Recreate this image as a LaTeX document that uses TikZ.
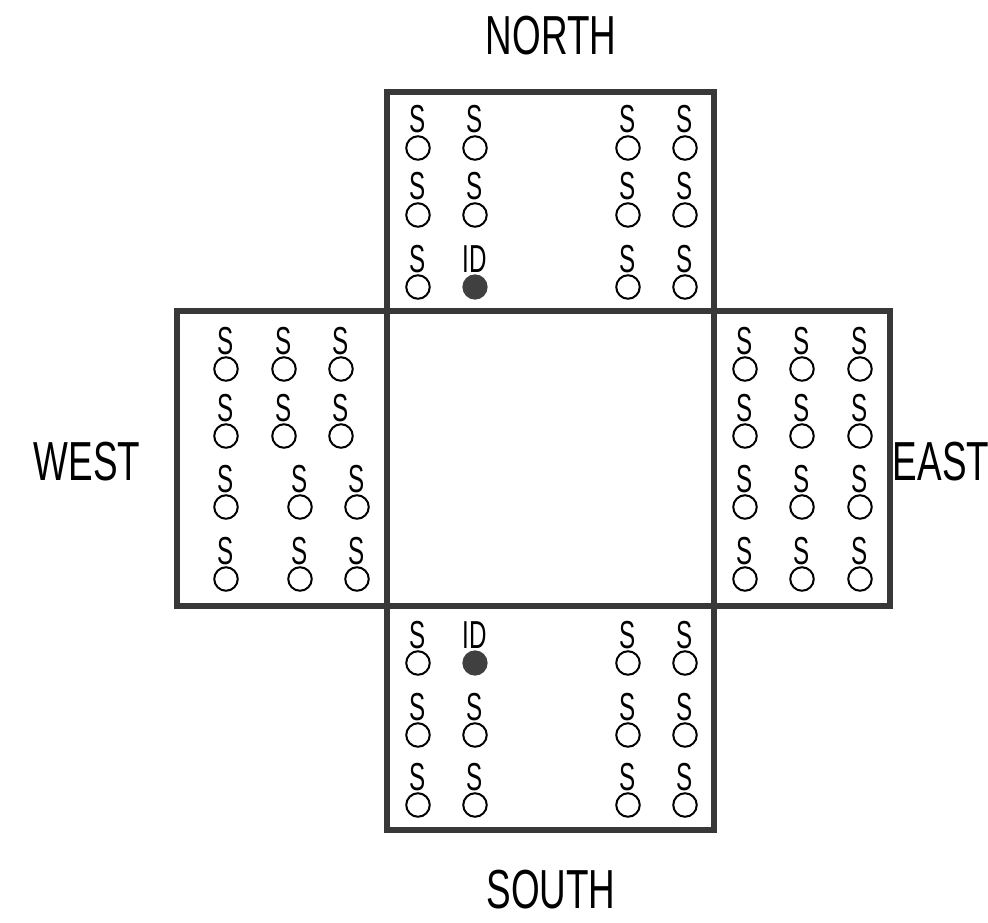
\documentclass[tikz,border=0pt]{standalone}
\usepackage{fontspec}
\newfontfamily\bigfont[FakeStretch=0.67]{Liberation Sans}
\newfontfamily\smallfont[FakeStretch=0.62]{Liberation Sans}
\begin{document}
\begin{tikzpicture}[x=1pt,y=-1pt,
  zonebox/.style={draw=black!78,line width=5.5pt},
  sensor/.style={circle,draw=black,line width=2pt,minimum size=23.5pt,inner sep=0pt},
  idsensor/.style={circle,fill=black!75,draw=black!75,line width=1.2pt,minimum size=24pt,inner sep=0pt},
  slabel/.style={anchor=base,inner sep=0pt,font=\smallfont\fontsize{39}{39}\selectfont},
  dirlabel/.style={anchor=base,inner sep=0pt,font=\bigfont\fontsize{55}{55}\selectfont}]
\useasboundingbox (0,0) rectangle (988,923);
% zones
\draw[zonebox] (387,92) rectangle (714,311);
\draw[zonebox] (387,311) rectangle (714,606);
\draw[zonebox] (177,311) rectangle (387,606);
\draw[zonebox] (714,311) rectangle (890,606);
\draw[zonebox] (387,606) rectangle (714,830);
% direction labels
\node[dirlabel] (north) at (551,55) {NORTH};
\node[dirlabel] (south) at (551,908) {SOUTH};
\node[dirlabel] (west) at (87,480) {WEST};
\node[dirlabel] (east) at (941,480) {EAST};
% north sensors
\foreach \y [count=\r] in {148,215,287}{
  \foreach \x [count=\c] in {418,475,628,685}{
    \ifnum\r=3 \ifnum\c=2
      \node[idsensor] (n-\r-\c) at (\x,\y) {};
      \node[slabel] (nl-\r-\c) at (\x,\y-15) {ID};
    \else
      \node[sensor] (n-\r-\c) at (\x,\y) {};
      \node[slabel] (nl-\r-\c) at (\x,\y-15) {S};
    \fi\else
      \node[sensor] (n-\r-\c) at (\x,\y) {};
      \node[slabel] (nl-\r-\c) at (\x,\y-15) {S};
    \fi
  }
}
% south sensors
\foreach \y [count=\r] in {663,735,805}{
  \foreach \x [count=\c] in {418,475,628,685}{
    \ifnum\r=1 \ifnum\c=2
      \node[idsensor] (s-\r-\c) at (\x,\y) {};
      \node[slabel] (sl-\r-\c) at (\x,\y-15) {ID};
    \else
      \node[sensor] (s-\r-\c) at (\x,\y) {};
      \node[slabel] (sl-\r-\c) at (\x,\y-15) {S};
    \fi\else
      \node[sensor] (s-\r-\c) at (\x,\y) {};
      \node[slabel] (sl-\r-\c) at (\x,\y-15) {S};
    \fi
  }
}
% west sensors
\foreach \y [count=\r] in {369,436}{
  \foreach \x [count=\c] in {226,284,341}{
    \node[sensor] (w-\r-\c) at (\x,\y) {};
    \node[slabel] (wl-\r-\c) at (\x,\y-15) {S};
  }
}
\foreach \y [count=\r from 3] in {507,579}{
  \foreach \x [count=\c] in {226,300,357}{
    \node[sensor] (w-\r-\c) at (\x,\y) {};
    \node[slabel] (wl-\r-\c) at (\x,\y-15) {S};
  }
}
% east sensors
\foreach \y [count=\r] in {369,436,507,579}{
  \foreach \x [count=\c] in {745,802,860}{
    \node[sensor] (e-\r-\c) at (\x,\y) {};
    \node[slabel] (el-\r-\c) at (\x,\y-15) {S};
  }
}
\end{tikzpicture}
\end{document}
